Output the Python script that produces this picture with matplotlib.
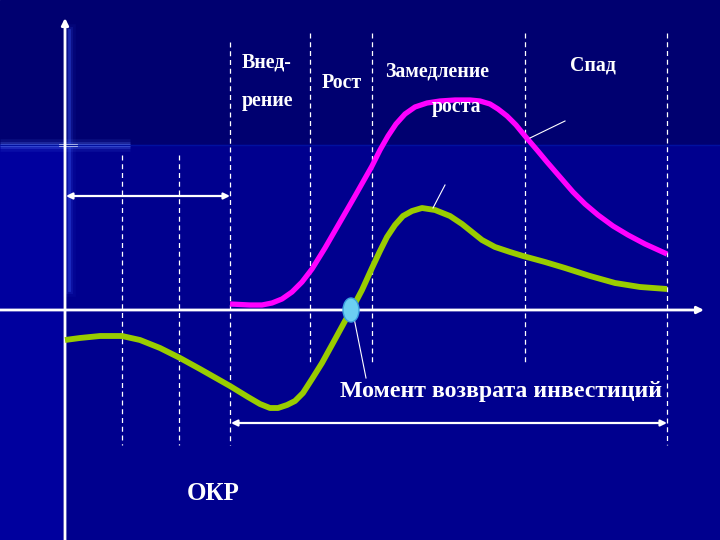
import matplotlib.pyplot as plt
from matplotlib.patches import Ellipse

# slide is drawn in pixel coordinates (x right, y down)
stage_labels = ['Внед-\n\nрение', 'Рост', 'Замедление', 'роста', 'Спад']
stage_label_pos = [(242, 82), (322, 83), (385, 71), (432, 107), (570, 66)]

# vertical dashed separators: x, top, bottom
sep_x = [122, 179, 230, 310, 372, 525, 667]
sep_top = [155, 155, 42, 33, 33, 33, 33]
sep_bottom = [445, 445, 445, 362, 362, 362, 445]

# sales curve (magenta)
sales_x = [230, 250, 262, 272, 282, 292, 302, 312, 325, 340, 355, 372, 380, 388,
           396, 405, 415, 427, 440, 455, 470, 480, 490, 498, 507, 516, 525, 537,
           547, 560, 573, 585, 598, 613, 628, 645, 667]
sales_y = [304, 305, 305, 303, 299, 292, 282, 269, 248, 222, 196, 166, 150, 136,
           124, 114, 107, 103, 101, 100, 100, 101, 104, 109, 116, 125, 136, 150,
           162, 177, 192, 204, 215, 226, 235, 244, 254]

# profit curve (green)
profit_x = [65, 80, 100, 122, 140, 160, 180, 200, 230, 248, 260, 270, 278, 287,
            295, 303, 312, 322, 333, 345, 352, 362, 372, 380, 387, 395, 403, 412,
            422, 435, 450, 462, 472, 482, 495, 510, 523, 545, 565, 590, 615, 640,
            667]
profit_y = [340, 338, 336, 336, 340, 348, 358, 369, 386, 397, 404, 408, 408, 405,
            401, 393, 379, 363, 343, 321, 309, 290, 268, 251, 237, 225, 216, 211,
            208, 210, 216, 224, 232, 240, 247, 252, 256, 262, 268, 276, 283, 287,
            289]

payback_x, payback_y = 351, 310

fig = plt.figure(figsize=(7.2, 5.4), dpi=100)
ax = fig.add_axes([0, 0, 1, 1])
ax.set_xlim(0, 720)
ax.set_ylim(540, 0)
ax.axis('off')

# background
ax.axhspan(0, 145, color='#000070', zorder=0)
ax.axhspan(145, 540, color='#00008e', zorder=0)
ax.axvspan(0, 62, ymin=0, ymax=1 - 145 / 540, color='#00009e', zorder=0)
# flare
for w, a in [(9, 0.10), (5, 0.22), (2, 0.55)]:
    ax.plot([0, 130], [145, 145], color='#6080ff', lw=w, alpha=a, zorder=1,
            solid_capstyle='butt')
    ax.plot([69, 69], [30, 290], color='#4060ff', lw=w, alpha=a * 0.6, zorder=1)
ax.plot([60, 76], [145, 145], color='#dde4ff', lw=2, zorder=1)
ax.plot([0, 720], [145, 145], color='#0010a0', lw=1, zorder=1)

# separators
ax.vlines(sep_x, sep_top, sep_bottom, colors='white', linestyles=(0, (4, 3)),
          lw=0.9, zorder=2)

# axes
arrow = dict(arrowstyle='-|>', color='white', lw=2, mutation_scale=10,
             shrinkA=0, shrinkB=0)
ax.annotate('', xy=(65, 18), xytext=(65, 540), arrowprops=arrow, zorder=3)
ax.annotate('', xy=(704, 310), xytext=(0, 310), arrowprops=arrow, zorder=3)

darrow = dict(arrowstyle='<|-|>', color='white', lw=1.6, mutation_scale=9,
              shrinkA=0, shrinkB=0)
ax.annotate('', xy=(230, 196), xytext=(66, 196), arrowprops=darrow, zorder=3)
ax.annotate('', xy=(667, 423), xytext=(231, 423), arrowprops=darrow, zorder=3)

# curves
ax.plot(sales_x, sales_y, color='#ff00ff', lw=3.8, solid_capstyle='butt',
        solid_joinstyle='round', zorder=4)
ax.plot(profit_x, profit_y, color='#99cc00', lw=4.2, solid_capstyle='butt',
        solid_joinstyle='round', zorder=4)

# pointers
ax.plot([530, 565], [138, 121], color='white', lw=0.8, zorder=5)
ax.plot([433, 445], [208, 185], color='white', lw=0.8, zorder=5)
ax.plot([354, 366], [318, 378], color='white', lw=0.8, zorder=5)

ax.add_patch(Ellipse((payback_x, payback_y), 16, 24, facecolor='#6ccff2',
                     edgecolor='#3aa0e0', lw=1, zorder=6))

font = dict(family='Liberation Serif', weight='bold', color='white')
for label, (x, y) in zip(stage_labels, stage_label_pos):
    ax.text(x, y, label, fontsize=14.3, ha='left', va='center',
            linespacing=0.95, zorder=7, **font)
ax.text(187, 493, 'ОКР', fontsize=18, ha='left', va='center', zorder=7, **font)
ax.text(340, 391, 'Момент возврата инвестиций', fontsize=17.2, ha='left',
        va='center', zorder=7, **font)

fig.savefig('out.png', dpi=100)
